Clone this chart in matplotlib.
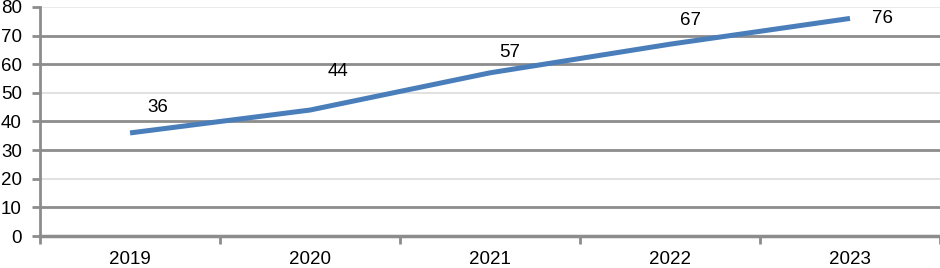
import matplotlib.pyplot as plt
import numpy as np

years = ['2019', '2020', '2021', '2022', '2023']
values = [36, 44, 57, 67, 76]
label_offsets = [(28, 25), (28, 39), (20, 20), (20, 24), (32, 0)]
yticks = [0, 10, 20, 30, 40, 50, 60, 70, 80]

plt.rcParams['font.family'] = ['Liberation Sans', 'DejaVu Sans']

fig = plt.figure(figsize=(9.4, 2.68), dpi=100)
ax = fig.add_axes([0.0426, 0.1194, 0.9574, 0.8546])

x = np.arange(len(years))
ax.set_xlim(-0.5, len(years) - 0.5)
ax.set_ylim(0, 80)

# gridlines, alternating dark / light as in the reference
grid_cols = {10: '#8c8c8c', 20: '#dcdcdc', 30: '#8c8c8c', 40: '#8c8c8c',
             50: '#dcdcdc', 60: '#8c8c8c', 70: '#8c8c8c', 80: '#e6e6e6'}
for v, c in grid_cols.items():
    ax.axhline(v, color=c, lw=2 if c == '#8c8c8c' else 1.2, zorder=1)

ax.plot(x, values, color='#4a7ebb', lw=3.6, solid_capstyle='butt', zorder=3)

for xi, v, (dx, dy) in zip(x, values, label_offsets):
    ax.annotate(str(v), (xi, v), xytext=(dx, dy), textcoords='offset pixels',
                ha='center', va='center', fontsize=13.5, color='black')

ax.set_yticks(yticks)
ax.set_yticklabels([str(t) for t in yticks], fontsize=13.5)
ax.set_xticks(x)
ax.set_xticklabels(years, fontsize=13.5)
ax.set_xticks(np.arange(-0.5, len(years)), minor=True)
ax.tick_params(axis='x', which='major', length=0, pad=11)
ax.tick_params(axis='x', which='minor', length=6, width=2, color='#8c8c8c', direction='out')
ax.tick_params(axis='y', length=6, width=2, color='#8c8c8c', pad=7)

for s in ['top', 'right']:
    ax.spines[s].set_visible(False)
ax.spines['left'].set_color('#8c8c8c')
ax.spines['left'].set_linewidth(2)
ax.spines['bottom'].set_color('#8c8c8c')
ax.spines['bottom'].set_linewidth(2.5)

fig.savefig('out.png', dpi=100)
